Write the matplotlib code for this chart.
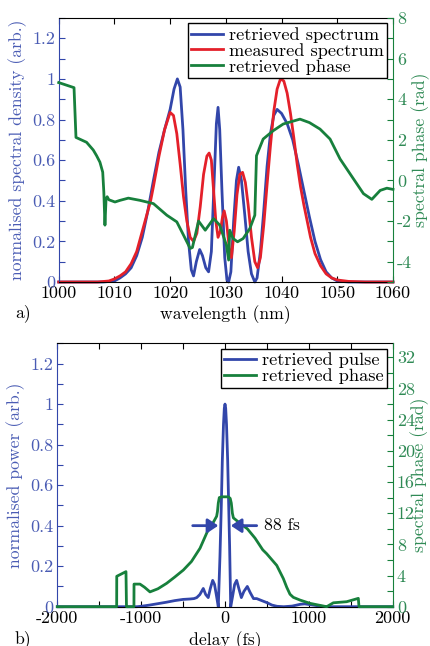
import matplotlib
matplotlib.use("Agg")
import matplotlib.pyplot as plt
from matplotlib.ticker import MultipleLocator, FuncFormatter

plt.rcParams['font.family'] = ['cmr10', 'DejaVu Serif']
plt.rcParams['axes.unicode_minus'] = False
plt.rcParams['mathtext.fontset'] = 'cm'
FS = 12.7
FS_TICK = 13.0
FS_LEG = 13.2

BLUE = '#3246aa'
BLUE_T = '#4a5cb4'
RED = '#e4202a'
GREEN = '#17803c'
GREEN_T = '#2f8a55'

# ---------------- panel a data ----------------
wl_ret = [1000, 1008, 1010, 1011, 1012, 1013, 1014, 1015, 1016, 1017, 1018, 1019, 1020,
          1020.7, 1021.3, 1021.8, 1022.3, 1022.8, 1023.3, 1023.8, 1024.2, 1024.7, 1025.3,
          1025.8, 1026.4, 1026.9, 1027.4, 1027.9, 1028.3, 1028.6, 1028.9, 1029.3, 1029.8,
          1030.2, 1030.5, 1030.9, 1031.4, 1031.9, 1032.3, 1032.8, 1033.4, 1034.0, 1034.6,
          1035.2, 1035.6, 1036.2, 1036.8, 1037.4, 1038.0, 1038.6, 1039.2, 1040, 1041, 1042,
          1043, 1044, 1045, 1046, 1047, 1048, 1049, 1050, 1052, 1060]
spec_ret = [0, 0, 0.005, 0.02, 0.04, 0.07, 0.13, 0.22, 0.35, 0.5, 0.64, 0.75, 0.85,
            0.95, 1.0, 0.96, 0.75, 0.45, 0.2, 0.06, 0.03, 0.1, 0.16,
            0.13, 0.07, 0.05, 0.15, 0.5, 0.78, 0.86, 0.75, 0.45, 0.12,
            0.01, 0.0, 0.05, 0.3, 0.5, 0.565, 0.5, 0.33, 0.15, 0.04,
            0.0, 0.02, 0.15, 0.35, 0.57, 0.73, 0.82, 0.85, 0.83, 0.78, 0.7,
            0.58, 0.45, 0.32, 0.2, 0.11, 0.05, 0.02, 0.005, 0, 0]

wl_meas = [1000, 1007, 1009, 1010, 1011, 1012, 1013, 1014, 1015, 1016, 1016.5, 1017, 1018,
           1019, 1020, 1020.6, 1021.2, 1021.8, 1022.4, 1023, 1023.6, 1024.2, 1024.8, 1025.4,
           1026, 1026.6, 1027, 1027.4, 1027.8, 1028.2, 1028.6, 1029.0, 1029.4, 1029.7,
           1030.1, 1030.6, 1031.0, 1031.5, 1032.0, 1032.5, 1033.0, 1033.5, 1034.0, 1034.6,
           1035.2, 1035.7, 1036.2, 1036.8, 1037.4, 1038.0, 1038.6, 1039.2, 1039.8, 1040.4,
           1041, 1041.6, 1042.2, 1042.8, 1043.4, 1044, 1044.6, 1045.2, 1046, 1047, 1048,
           1049, 1050, 1052, 1055, 1060]
spec_meas = [0, 0, 0.005, 0.015, 0.03, 0.05, 0.09, 0.15, 0.25, 0.35, 0.4, 0.47, 0.62,
             0.75, 0.835, 0.82, 0.73, 0.58, 0.42, 0.3, 0.22, 0.2, 0.24, 0.37,
             0.53, 0.62, 0.635, 0.6, 0.45, 0.3, 0.22, 0.25, 0.32, 0.35,
             0.3, 0.17, 0.12, 0.25, 0.43, 0.53, 0.54, 0.49, 0.38, 0.22,
             0.1, 0.07, 0.12, 0.28, 0.48, 0.67, 0.84, 0.95, 1.0, 0.99,
             0.93, 0.83, 0.71, 0.58, 0.47, 0.38, 0.3, 0.22, 0.14, 0.08, 0.04,
             0.02, 0.01, 0.003, 0, 0]

wl_phase = [1000, 1002.75, 1003.1, 1005.0, 1006.2, 1006.8, 1007.4, 1007.9, 1008.1, 1008.3,
            1008.5, 1008.7, 1009.0, 1010.1, 1011.0, 1012.5, 1014.6, 1017, 1019.4, 1021.2,
            1022.4, 1023.6, 1024.0, 1025.1, 1026.3, 1027.8, 1028.9, 1030.1, 1030.5, 1030.7,
            1031.3, 1032.1, 1033.1, 1034.3, 1035.2, 1035.5, 1036.7, 1038.5, 1040.3, 1043.3,
            1045.0, 1046.9, 1048.7, 1050.5, 1052.9, 1054.7, 1056.2, 1057.7, 1058.9, 1060]
phase_a = [4.82, 4.57, 2.12, 1.88, 1.5, 1.22, 0.9, 0.41, -0.57, -2.2,
           -0.9, -0.8, -0.95, -1.06, -0.98, -0.87, -0.98, -1.14, -1.71, -2.04,
           -2.69, -3.35, -3.3, -2.0, -2.45, -1.88, -2.2, -3.18, -3.92, -2.45,
           -2.86, -3.02, -2.86, -2.37, -1.71, 1.22, 2.04, 2.45, 2.78, 3.02,
           2.85, 2.53, 2.04, 1.06, 0.08, -0.65, -0.93, -0.49, -0.38, -0.44]

# ---------------- panel b data ----------------
delay_pulse = [-2000, -1050, -1000, -900, -800, -700, -600, -500, -420, -370, -337, -300,
               -259, -230, -200, -175, -147, -125, -100, -80, -60, -44, -32, -18, -8, 0,
               8, 18, 32, 44, 55, 68, 90, 115, 139, 165, 195, 225, 266, 300, 340, 378, 420,
               500, 560, 620, 700, 800, 900, 950, 1050, 1150, 1250, 2000]
pulse = [0, 0, 0.002, 0.008, 0.015, 0.022, 0.03, 0.036, 0.038, 0.04, 0.045, 0.06,
         0.09, 0.06, 0.045, 0.09, 0.13, 0.11, 0.05, 0.0, 0.25, 0.5, 0.72, 0.9, 0.98, 1.0,
         0.98, 0.9, 0.72, 0.5, 0.3, 0.0, 0.05, 0.11, 0.13, 0.09, 0.045, 0.075, 0.10, 0.07,
         0.04, 0.04, 0.033, 0.02, 0.008, 0.002, 0, 0.003, 0.012, 0.014, 0.008, 0.002, 0, 0]

delay_phase = [-2000, -1292, -1291, -1181, -1175, -1086, -1085, -1014, -960, -895, -800,
               -696, -600, -497, -400, -298, -212, -156, -100, -90, -80, -68, -40, 40, 62,
               75, 88, 100, 179, 266, 358, 450, 497, 617, 696, 736, 775, 815, 895, 1014,
               1173, 1213, 1260, 1292, 1451, 1590, 1598, 2000]
phase_b = [0, 0, 3.9, 4.5, 0, 0, 2.9, 2.9, 2.5, 1.9, 2.3,
           3.0, 3.8, 4.7, 5.8, 7.5, 9.6, 10.5, 11.6, 12.2, 13.3, 14.0, 14.1, 14.1, 13.9,
           13.3, 12.0, 11.4, 10.7, 10.0, 8.8, 7.3, 6.8, 5.3, 3.6, 2.5, 1.6, 1.2, 0.85, 0.43,
           0.085, 0, 0.3, 0.5, 0.64, 1.07, 0, 0]

W, H = 431, 646
fig = plt.figure(figsize=(W / 100, H / 100), dpi=100)


def px_axes(l, t, r, b):
    return fig.add_axes([l / W, 1 - b / H, (r - l) / W, (b - t) / H])


def style(ax1, ax2, xmin, xmax, xmaj, xmin_step, rmaj, rmin):
    ax1.set_ylim(0, 1.3)
    ax1.yaxis.set_major_locator(MultipleLocator(0.2))
    ax1.yaxis.set_minor_locator(MultipleLocator(0.1))
    ax1.yaxis.set_major_formatter(FuncFormatter(lambda v, p: '%g' % round(v, 2)))
    ax1.set_xlim(xmin, xmax)
    ax1.xaxis.set_major_locator(MultipleLocator(xmaj))
    if xmin_step:
        ax1.xaxis.set_minor_locator(MultipleLocator(xmin_step))
    ax1.xaxis.set_major_formatter(FuncFormatter(lambda v, p: '%d' % round(v)))
    ax1.tick_params(axis='both', which='both', direction='in', labelsize=FS_TICK,
                    length=4, width=0.8, top=True, right=False)
    ax1.tick_params(axis='y', which='both', colors=BLUE, labelcolor=BLUE_T, pad=2.5)
    ax1.tick_params(axis='x', which='both', colors='black', pad=3)
    ax1.spines['left'].set_color(BLUE)
    ax1.spines['right'].set_visible(False)
    for s in ('top', 'bottom'):
        ax1.spines[s].set_color('black')
    ax2.yaxis.set_major_locator(MultipleLocator(rmaj))
    ax2.yaxis.set_minor_locator(MultipleLocator(rmin))
    ax2.yaxis.set_major_formatter(FuncFormatter(lambda v, p: '%g' % round(v, 2)))
    ax2.tick_params(axis='y', which='both', direction='in', labelsize=FS_TICK, length=4,
                    width=0.8, colors=GREEN, labelcolor=GREEN_T, pad=3)
    for s in ('left', 'top', 'bottom'):
        ax2.spines[s].set_visible(False)
    ax2.spines['right'].set_color(GREEN)


def make_legend(ax, handles, labels):
    lg = ax.legend(handles, labels, loc='upper right', fontsize=FS_LEG, frameon=True,
                   fancybox=False, framealpha=1, edgecolor='black', handlelength=1.75,
                   handletextpad=0.3, borderpad=0.2, labelspacing=0.0, borderaxespad=0.3)
    lg.get_frame().set_linewidth(1.0)
    return lg


# ---------------- panel a ----------------
axa = px_axes(58.7, 18, 393, 282)
axa2 = axa.twinx()
l1, = axa.plot(wl_ret, spec_ret, color=BLUE, lw=2.0, clip_on=False)
l2, = axa.plot(wl_meas, spec_meas, color=RED, lw=2.0, clip_on=False)
l3, = axa2.plot(wl_phase, phase_a, color=GREEN, lw=2.0, clip_on=False)
axa2.set_ylim(-5, 8)
style(axa, axa2, 1000, 1060, 10, None, 2, 1)
axa.set_ylabel('normalised spectral density (arb.)', fontsize=FS, color=BLUE_T)
axa2.set_ylabel('spectral phase (rad)', fontsize=FS, color=GREEN_T)
axa.set_xlabel('wavelength (nm)', fontsize=FS)
axa.yaxis.set_label_coords(-0.095, 0.5)
axa2.yaxis.set_label_coords(1.054, 0.5)
axa.xaxis.set_label_coords(0.5, -0.088)
make_legend(axa2, [l1, l2, l3], ['retrieved spectrum', 'measured spectrum', 'retrieved phase'])

# ---------------- panel b ----------------
axb = px_axes(57.3, 343.3, 392.7, 606.7)
axb2 = axb.twinx()
p1, = axb.plot(delay_pulse, pulse, color=BLUE, lw=2.0, clip_on=False)
p2, = axb2.plot(delay_phase, phase_b, color=GREEN, lw=2.0, clip_on=False)
axb2.set_ylim(0, 33.8)
style(axb, axb2, -2000, 2000, 1000, 500, 4, 2)
axb.set_ylabel('normalised power (arb.)', fontsize=FS, color=BLUE_T)
axb2.set_ylabel('spectral phase (rad)', fontsize=FS, color=GREEN_T)
axb.set_xlabel('delay (fs)', fontsize=FS)
axb.yaxis.set_label_coords(-0.095, 0.5)
axb2.yaxis.set_label_coords(1.054, 0.5)
axb.xaxis.set_label_coords(0.5, -0.095)
make_legend(axb2, [p1, p2], ['retrieved pulse', 'retrieved phase'])

arrow = dict(arrowstyle='-|>,head_length=0.45,head_width=0.3', color=BLUE, lw=2.0,
             mutation_scale=14, shrinkA=0, shrinkB=0)
axb2.annotate('', xy=(-80, 0.4 * 26), xytext=(-385, 0.4 * 26), arrowprops=arrow)
axb2.annotate('', xy=(70, 0.4 * 26), xytext=(378, 0.4 * 26), arrowprops=arrow)
axb2.text(465, 0.4 * 26, '88 fs', fontsize=FS, va='center', ha='left', color='black')

fig.text(15 / W, 1 - 313 / H, 'a)', fontsize=FS, va='center', ha='left')
fig.text(15 / W, 1 - 639 / H, 'b)', fontsize=FS, va='center', ha='left')

fig.savefig('out.png', dpi=100)
